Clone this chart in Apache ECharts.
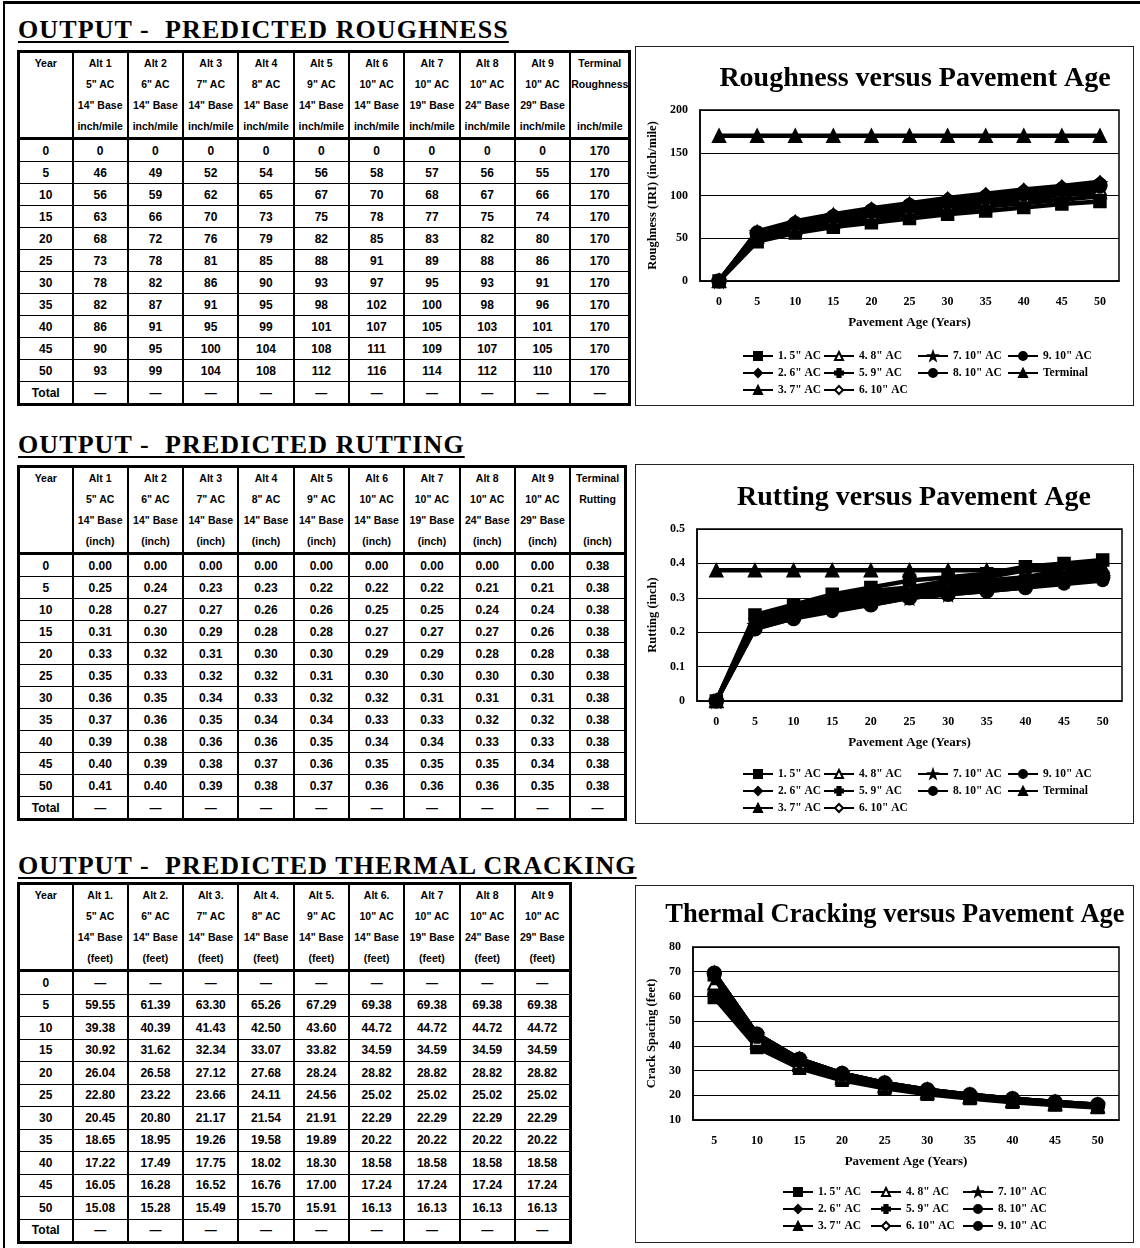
<!DOCTYPE html>
<html>
<head>
<meta charset="utf-8">
<script src="https://cdn.jsdelivr.net/npm/echarts@6/dist/echarts.min.js"></script>
<style>
body{margin:0;background:#fff;width:1140px;height:1248px;position:relative;overflow:hidden;font-family:"Liberation Serif",serif;}
.frame{position:absolute;left:3px;top:1px;width:1140px;height:1260px;border-top:3px solid #000;border-left:2px solid #000;}
.sec-title{position:absolute;left:18px;font:bold 26px/28px "Liberation Serif",serif;letter-spacing:1.1px;text-decoration:underline;text-decoration-thickness:2px;text-underline-offset:3px;white-space:pre;}
table.t{position:absolute;left:17px;border-collapse:collapse;table-layout:fixed;border:3px solid #000;font:bold 12px "Liberation Sans Narrow","Liberation Sans",sans-serif;}
table.t td{border-left:2.5px solid #000;border-right:2.5px solid #000;border-top:1.5px solid #000;border-bottom:1.5px solid #000;text-align:center;padding:0;height:21px;}
table.t tr.h td{height:83px;vertical-align:top;line-height:21px;font-size:10.5px;border-bottom:3.5px solid #000;}
#t3 td{height:21.5px;}
.box{position:absolute;border:1px solid #222;box-sizing:border-box;background:#fff;}
.chart{position:absolute;left:0;top:0;right:0;bottom:0;}
</style>
</head>
<body>
<div class="frame"></div>

<div class="sec-title" style="top:16px">OUTPUT -  PREDICTED ROUGHNESS</div>
<table class="t" id="t1" style="top:50px"></table>
<div class="box" style="left:635px;top:46px;width:499px;height:360px"><div class="chart" id="c1"></div></div>

<div class="sec-title" style="top:431px">OUTPUT -  PREDICTED RUTTING</div>
<table class="t" id="t2" style="top:465px"></table>
<div class="box" style="left:635px;top:464px;width:499px;height:360px"><div class="chart" id="c2"></div></div>

<div class="sec-title" style="top:852px">OUTPUT -  PREDICTED THERMAL CRACKING</div>
<table class="t" id="t3" style="top:882px"></table>
<div class="box" style="left:635px;top:885px;width:499px;height:358px"><div class="chart" id="c3"></div></div>

<script>
// ---- data ----
const years = [0, 5, 10, 15, 20, 25, 30, 35, 40, 45, 50];
const crackYears = [5, 10, 15, 20, 25, 30, 35, 40, 45, 50];
const acInches = [5, 6, 7, 8, 9, 10, 10, 10, 10];
const baseInches = [14, 14, 14, 14, 14, 14, 19, 24, 29];

// roughness (inch/mile), one array per alternative
const roughness = [
  [0, 46, 56, 63, 68, 73, 78, 82, 86, 90, 93],
  [0, 49, 59, 66, 72, 78, 82, 87, 91, 95, 99],
  [0, 52, 62, 70, 76, 81, 86, 91, 95, 100, 104],
  [0, 54, 65, 73, 79, 85, 90, 95, 99, 104, 108],
  [0, 56, 67, 75, 82, 88, 93, 98, 101, 108, 112],
  [0, 58, 70, 78, 85, 91, 97, 102, 107, 111, 116],
  [0, 57, 68, 77, 83, 89, 95, 100, 105, 109, 114],
  [0, 56, 67, 75, 82, 88, 93, 98, 103, 107, 112],
  [0, 55, 66, 74, 80, 86, 91, 96, 101, 105, 110]
];
const terminalRoughness = [170, 170, 170, 170, 170, 170, 170, 170, 170, 170, 170];

// rutting (inch)
const rutting = [
  [0.00, 0.25, 0.28, 0.31, 0.33, 0.35, 0.36, 0.37, 0.39, 0.40, 0.41],
  [0.00, 0.24, 0.27, 0.30, 0.32, 0.33, 0.35, 0.36, 0.38, 0.39, 0.40],
  [0.00, 0.23, 0.27, 0.29, 0.31, 0.32, 0.34, 0.35, 0.36, 0.38, 0.39],
  [0.00, 0.23, 0.26, 0.28, 0.30, 0.32, 0.33, 0.34, 0.36, 0.37, 0.38],
  [0.00, 0.22, 0.26, 0.28, 0.30, 0.31, 0.32, 0.34, 0.35, 0.36, 0.37],
  [0.00, 0.22, 0.25, 0.27, 0.29, 0.30, 0.32, 0.33, 0.34, 0.35, 0.36],
  [0.00, 0.22, 0.25, 0.27, 0.29, 0.30, 0.31, 0.33, 0.34, 0.35, 0.36],
  [0.00, 0.21, 0.24, 0.27, 0.28, 0.30, 0.31, 0.32, 0.33, 0.35, 0.36],
  [0.00, 0.21, 0.24, 0.26, 0.28, 0.30, 0.31, 0.32, 0.33, 0.34, 0.35]
];
const terminalRutting = [0.38, 0.38, 0.38, 0.38, 0.38, 0.38, 0.38, 0.38, 0.38, 0.38, 0.38];

// thermal crack spacing (feet), years 5..50
const cracking = [
  [59.55, 39.38, 30.92, 26.04, 22.80, 20.45, 18.65, 17.22, 16.05, 15.08],
  [61.39, 40.39, 31.62, 26.58, 23.22, 20.80, 18.95, 17.49, 16.28, 15.28],
  [63.30, 41.43, 32.34, 27.12, 23.66, 21.17, 19.26, 17.75, 16.52, 15.49],
  [65.26, 42.50, 33.07, 27.68, 24.11, 21.54, 19.58, 18.02, 16.76, 15.70],
  [67.29, 43.60, 33.82, 28.24, 24.56, 21.91, 19.89, 18.30, 17.00, 15.91],
  [69.38, 44.72, 34.59, 28.82, 25.02, 22.29, 20.22, 18.58, 17.24, 16.13],
  [69.38, 44.72, 34.59, 28.82, 25.02, 22.29, 20.22, 18.58, 17.24, 16.13],
  [69.38, 44.72, 34.59, 28.82, 25.02, 22.29, 20.22, 18.58, 17.24, 16.13],
  [69.38, 44.72, 34.59, 28.82, 25.02, 22.29, 20.22, 18.58, 17.24, 16.13]
];

const seriesNames = ['1. 5" AC', '2. 6" AC', '3. 7" AC', '4. 8" AC', '5. 9" AC',
  '6. 10" AC', '7. 10" AC', '8. 10" AC', '9. 10" AC'];

// ---- tables ----
function buildTable(id, unit, altDots, terminal, rows) {
  const t = document.getElementById(id);
  let cols = '<colgroup><col style="width:54px">';
  const n = 9 + (terminal ? 1 : 0);
  for (let i = 0; i < n; i++) cols += '<col style="width:55.3px">';
  cols += '</colgroup>';
  let h = '<tr class="h"><td>Year</td>';
  for (let i = 0; i < 9; i++) {
    const dot = altDots && i < 6 ? '.' : '';
    h += '<td>Alt ' + (i + 1) + dot + '<br>' + acInches[i] + '" AC<br>' +
      baseInches[i] + '" Base<br>' + unit + '</td>';
  }
  if (terminal) h += '<td>Terminal<br>' + terminal + '<br>&nbsp;<br>' + unit + '</td>';
  h += '</tr>';
  let body = '';
  rows.forEach(r => {
    body += '<tr>' + r.map(v => '<td>' + v + '</td>').join('') + '</tr>';
  });
  const dashRow = ['Total'].concat(new Array(n).fill('&mdash;'));
  body += '<tr>' + dashRow.map(v => '<td>' + v + '</td>').join('') + '</tr>';
  t.innerHTML = cols + h + body;
}

buildTable('t1', 'inch/mile', false, 'Roughness',
  years.map((y, k) => [y].concat(roughness.map(a => a[k]), [terminalRoughness[k]])));
buildTable('t2', '(inch)', false, 'Rutting',
  years.map((y, k) => [y].concat(rutting.map(a => a[k].toFixed(2)), [terminalRutting[k].toFixed(2)])));
buildTable('t3', '(feet)', true, null,
  years.map((y, k) => [y].concat(cracking.map(a => k === 0 ? '&mdash;' : a[k - 1].toFixed(2)))));

// ---- charts ----
const PLUS = 'path://M3,0h4v3h3v4h-3v3h-4v-3h-3v-4h3z';
const STAR = 'path://M5,0L6.2,3.6L10,3.8L7,6.1L8.1,10L5,7.7L1.9,10L3,6.1L0,3.8L3.8,3.6z';
const symbols = ['rect', 'diamond', 'triangle', 'emptyTriangle', PLUS, 'emptyDiamond', STAR, 'circle', 'circle'];
const symSizes = [12, 12, 13, 12, 12, 11, 13, 14, 12];
const font = '"Liberation Serif", serif';

function lineSeries(name, data, i) {
  return {
    name: name, type: 'line', data: data,
    symbol: symbols[i], symbolSize: symSizes[i],
    lineStyle: { color: '#000', width: 4.5 },
    itemStyle: { color: '#000', borderColor: '#000', borderWidth: 1.5 },
    z: 2 + i
  };
}

function legendList(names, pos) {
  return names.map((nm, i) => ({
    data: [nm], left: pos[i][0], top: pos[i][1], itemWidth: 30, itemHeight: 10,
    textStyle: { fontFamily: font, fontWeight: 'bold', fontSize: 11.5, color: '#000' },
    selectedMode: false
  }));
}

function baseOption(o) {
  return {
    animation: false,
    backgroundColor: '#fff',
    textStyle: { fontFamily: font },
    title: {
      text: o.title, left: o.titleX, top: o.titleY, textAlign: 'center',
      textStyle: { fontFamily: font, fontWeight: 'bold', fontSize: o.titleSize, color: '#000' }
    },
    legend: legendList(o.names, o.legendPos),
    grid: Object.assign({ show: true, borderColor: '#000', borderWidth: 1.5, backgroundColor: '#fff' }, o.grid),
    xAxis: {
      type: 'category', data: o.x, boundaryGap: true,
      name: 'Pavement Age (Years)', nameLocation: 'middle', nameGap: 35,
      nameTextStyle: { fontFamily: font, fontWeight: 'bold', fontSize: 13, color: '#000' },
      axisLine: { lineStyle: { color: '#000', width: 1.5 } },
      axisTick: { show: false },
      axisLabel: { fontFamily: font, fontWeight: 'bold', fontSize: 12, color: '#000', margin: 15, interval: 0 }
    },
    yAxis: {
      type: 'value', min: o.yMin, max: o.yMax, interval: o.yInt,
      name: o.yName, nameLocation: 'middle', nameGap: o.yGap,
      nameTextStyle: { fontFamily: font, fontWeight: 'bold', fontSize: 12.5, color: '#000' },
      axisLine: { show: true, lineStyle: { color: '#000', width: 1.5 } },
      axisTick: { show: false },
      axisLabel: { fontFamily: font, fontWeight: 'bold', fontSize: 12, color: '#000', margin: 12 },
      splitLine: { lineStyle: { color: '#000', width: 1.2 } }
    },
    series: o.series
  };
}

const legendPos4 = [[101, 298], [101, 315], [101, 332], [182, 298], [182, 315], [182, 332],
  [276, 298], [276, 315], [366, 298], [366, 315]];
const legendPos3 = [[141, 295], [141, 312], [141, 329], [229, 295], [229, 312], [229, 329],
  [321, 295], [321, 312], [321, 329]];

const allNames = seriesNames.concat(['Terminal']);

const c1 = echarts.init(document.getElementById('c1'));
c1.setOption(baseOption({
  title: 'Roughness versus Pavement Age', titleX: 274, titleY: 13, titleSize: 28,
  names: allNames, legendPos: legendPos4,
  grid: { left: 64, right: 14, top: 63, bottom: 124 },
  x: years, yMin: 0, yMax: 200, yInt: 50,
  yName: 'Roughness (IRI) (inch/mile)', yGap: 38,
  series: roughness.map((a, i) => lineSeries(seriesNames[i], a, i))
    .concat([lineSeries('Terminal', terminalRoughness, 2)])
}));

const c2 = echarts.init(document.getElementById('c2'));
c2.setOption(baseOption({
  title: 'Rutting versus Pavement Age', titleX: 273, titleY: 14, titleSize: 28,
  names: allNames, legendPos: legendPos4,
  grid: { left: 61, right: 11, top: 64, bottom: 122 },
  x: years, yMin: 0, yMax: 0.5, yInt: 0.1,
  yName: 'Rutting (inch)', yGap: 35,
  series: rutting.map((a, i) => lineSeries(seriesNames[i], a, i))
    .concat([lineSeries('Terminal', terminalRutting, 2)])
}));

const c3 = echarts.init(document.getElementById('c3'));
c3.setOption(baseOption({
  title: 'Thermal Cracking versus Pavement Age', titleX: 254, titleY: 11, titleSize: 26.5,
  names: seriesNames, legendPos: legendPos3,
  grid: { left: 57, right: 14, top: 61, bottom: 122 },
  x: crackYears, yMin: 10, yMax: 80, yInt: 10,
  yName: 'Crack Spacing (feet)', yGap: 33,
  series: cracking.map((a, i) => lineSeries(seriesNames[i], a, i))
}));
</script>
</body>
</html>
